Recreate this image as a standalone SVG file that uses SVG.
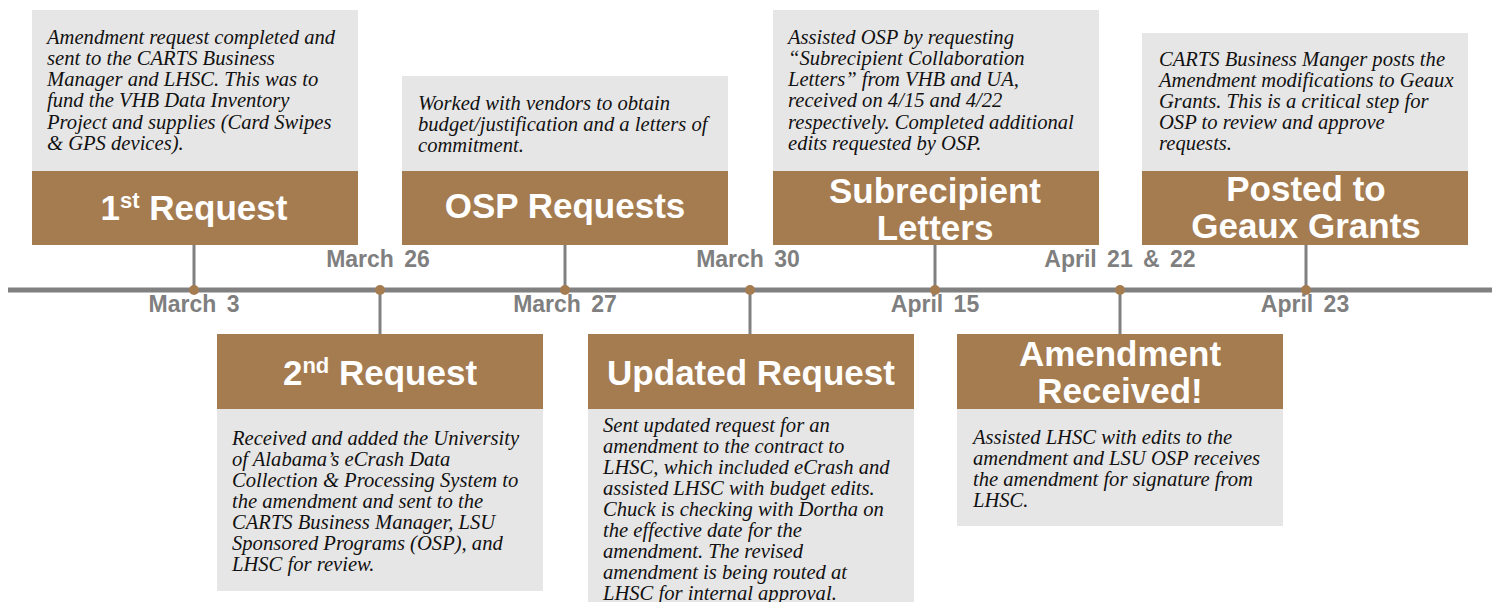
<svg xmlns="http://www.w3.org/2000/svg" width="1501" height="602" viewBox="0 0 1501 602">
<style>
.note{fill:#E7E6E6}
.head{fill:#A57B50}
.stem{stroke:#808080;stroke-width:3;fill:none}
.axis{stroke:#808080;stroke-width:5}
.dot{fill:#A57B50}
.date{font-family:"Liberation Sans",Arial,sans-serif;font-weight:bold;font-size:23px;fill:#7F7F7F;text-anchor:middle;word-spacing:4px}
.title{font-family:"Liberation Sans",Arial,sans-serif;font-weight:bold;font-size:35px;fill:#FFFFFF;text-anchor:middle}
.sup{font-size:22px}
.body{font-family:"Liberation Serif","Times New Roman",serif;font-style:italic;font-size:20.6px;fill:#111111}
</style>
<rect width="1501" height="602" fill="#FFFFFF"/>
<g id="connectors">
<line class="axis" x1="8" y1="290" x2="1492" y2="290"/>
<line class="stem" x1="194" y1="245" x2="194" y2="290"/>
<line class="stem" x1="565" y1="245" x2="565" y2="290"/>
<line class="stem" x1="935" y1="245" x2="935" y2="290"/>
<line class="stem" x1="1306" y1="245" x2="1306" y2="290"/>
<line class="stem" x1="380" y1="290" x2="380" y2="334"/>
<line class="stem" x1="750" y1="290" x2="750" y2="334"/>
<line class="stem" x1="1120" y1="290" x2="1120" y2="334"/>
<circle class="dot" cx="194" cy="290" r="5"/>
<circle class="dot" cx="380" cy="290" r="5"/>
<circle class="dot" cx="565" cy="290" r="5"/>
<circle class="dot" cx="750" cy="290" r="5"/>
<circle class="dot" cx="935" cy="290" r="5"/>
<circle class="dot" cx="1120" cy="290" r="5"/>
<circle class="dot" cx="1306" cy="290" r="5"/>
</g>
<g id="dates">
<text class="date" x="194" y="312">March 3</text>
<text class="date" x="378" y="267">March 26</text>
<text class="date" x="565" y="312">March 27</text>
<text class="date" x="748" y="267">March 30</text>
<text class="date" x="935" y="312">April 15</text>
<text class="date" x="1120" y="267">April 21 &amp; 22</text>
<text class="date" x="1305" y="312">April 23</text>
</g>
<g id="node-1st-request">
<rect class="note" x="32" y="10" width="326" height="161"/>
<rect class="head" x="32" y="171" width="326" height="74"/>
<text class="title" x="194" y="220">1<tspan class="sup" dy="-12">st</tspan><tspan dy="12"> Request</tspan></text>
<text class="body" x="47" y="44">Amendment request completed and</text>
<text class="body" x="47" y="65">sent to the CARTS Business</text>
<text class="body" x="47" y="86">Manager and LHSC. This was to</text>
<text class="body" x="47" y="107">fund the VHB Data Inventory</text>
<text class="body" x="47" y="129">Project and supplies (Card Swipes</text>
<text class="body" x="47" y="150">&amp; GPS devices).</text>
</g>
<g id="node-osp-requests">
<rect class="note" x="402" y="76" width="326" height="95"/>
<rect class="head" x="402" y="171" width="326" height="74"/>
<text class="title" x="565" y="218">OSP Requests</text>
<text class="body" x="418" y="110">Worked with vendors to obtain</text>
<text class="body" x="418" y="131">budget/justification and a letters of</text>
<text class="body" x="418" y="152">commitment.</text>
</g>
<g id="node-subrecipient-letters">
<rect class="note" x="773" y="10" width="326" height="161"/>
<rect class="head" x="773" y="171" width="326" height="74"/>
<text class="title" x="935" y="203">Subrecipient</text>
<text class="title" x="935" y="240">Letters</text>
<text class="body" x="788" y="44">Assisted OSP by requesting</text>
<text class="body" x="788" y="65">“Subrecipient Collaboration</text>
<text class="body" x="788" y="86">Letters” from VHB and UA,</text>
<text class="body" x="788" y="107">received on 4/15 and 4/22</text>
<text class="body" x="788" y="129">respectively. Completed additional</text>
<text class="body" x="788" y="150">edits requested by OSP.</text>
</g>
<g id="node-posted">
<rect class="note" x="1142" y="33" width="326" height="138"/>
<rect class="head" x="1142" y="171" width="326" height="74"/>
<text class="title" x="1306" y="201">Posted to</text>
<text class="title" x="1306" y="238">Geaux Grants</text>
<text class="body" x="1159" y="66">CARTS Business Manger posts the</text>
<text class="body" x="1159" y="87">Amendment modifications to Geaux</text>
<text class="body" x="1159" y="108">Grants. This is a critical step for</text>
<text class="body" x="1159" y="129">OSP to review and approve</text>
<text class="body" x="1159" y="150">requests.</text>
</g>
<g id="node-2nd-request">
<rect class="head" x="217" y="334" width="326" height="75"/>
<rect class="note" x="217" y="409" width="326" height="182"/>
<text class="title" x="380" y="385">2<tspan class="sup" dy="-12">nd</tspan><tspan dy="12"> Request</tspan></text>
<text class="body" x="232" y="445">Received and added the University</text>
<text class="body" x="232" y="466">of Alabama’s eCrash Data</text>
<text class="body" x="232" y="487">Collection &amp; Processing System to</text>
<text class="body" x="232" y="508">the amendment and sent to the</text>
<text class="body" x="232" y="529">CARTS Business Manager, LSU</text>
<text class="body" x="232" y="550">Sponsored Programs (OSP), and</text>
<text class="body" x="232" y="571">LHSC for review.</text>
</g>
<g id="node-updated-request">
<rect class="head" x="588" y="334" width="326" height="75"/>
<rect class="note" x="588" y="409" width="326" height="193"/>
<text class="title" x="751" y="385">Updated Request</text>
<text class="body" x="603" y="432">Sent updated request for an</text>
<text class="body" x="603" y="453">amendment to the contract to</text>
<text class="body" x="603" y="474">LHSC, which included eCrash and</text>
<text class="body" x="603" y="495">assisted LHSC with budget edits.</text>
<text class="body" x="603" y="516">Chuck is checking with Dortha on</text>
<text class="body" x="603" y="537">the effective date for the</text>
<text class="body" x="603" y="558">amendment. The revised</text>
<text class="body" x="603" y="579">amendment is being routed at</text>
<text class="body" x="603" y="600">LHSC for internal approval.</text>
</g>
<g id="node-amendment-received">
<rect class="head" x="957" y="334" width="326" height="75"/>
<rect class="note" x="957" y="409" width="326" height="117"/>
<text class="title" x="1120" y="366">Amendment</text>
<text class="title" x="1120" y="403">Received!</text>
<text class="body" x="973" y="444">Assisted LHSC with edits to the</text>
<text class="body" x="973" y="465">amendment and LSU OSP receives</text>
<text class="body" x="973" y="486">the amendment for signature from</text>
<text class="body" x="973" y="507">LHSC.</text>
</g>
</svg>
